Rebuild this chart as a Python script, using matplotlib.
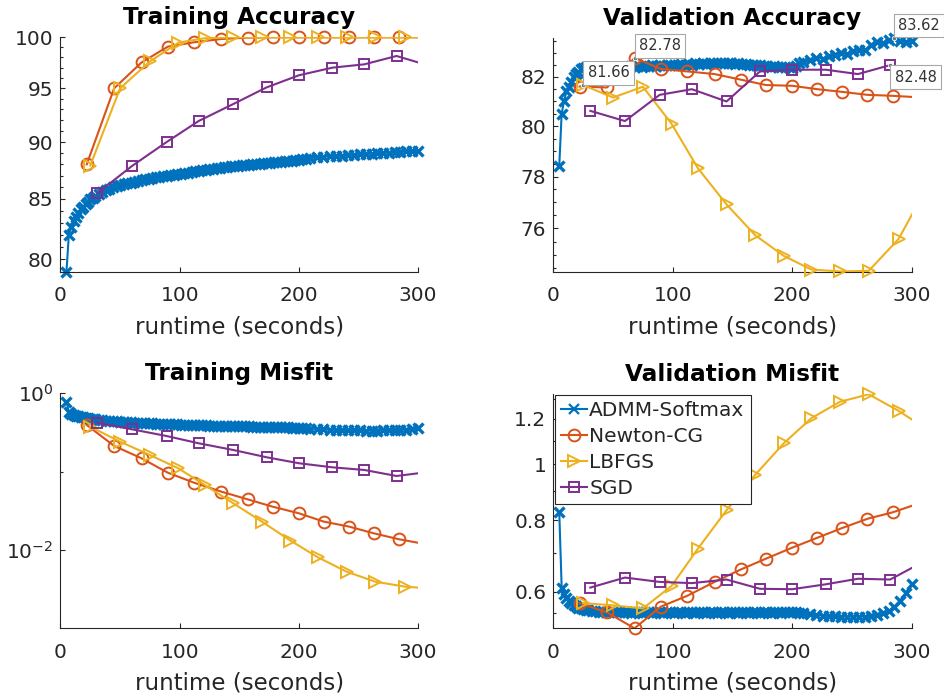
import numpy as np
import matplotlib
matplotlib.use('Agg')
import matplotlib.pyplot as plt
from matplotlib.lines import Line2D
from matplotlib.ticker import FixedLocator, FixedFormatter, NullFormatter, NullLocator

plt.rcParams['font.family'] = ['DejaVu Sans']

# ---------------- data ----------------
series_names = ['ADMM-Softmax', 'Newton-CG', 'LBFGS', 'SGD']

admm_t = [5, 7, 9, 11, 13, 15, 17, 19, 21, 23, 25, 27, 29,
          32, 35, 38, 41, 44, 47, 50, 53, 56, 59,
          62, 65, 68, 71, 74, 77, 80, 83, 86, 89,
          92, 95, 98, 101, 104, 107, 110, 113, 116, 119,
          122, 125, 128, 131, 134, 137, 140, 143, 146, 149,
          152, 155, 158, 161, 164, 167, 170, 173, 176, 179,
          182, 185, 188, 191, 194, 197, 200, 203, 206, 209,
          215, 220, 226, 231, 236, 241, 246, 251, 256, 261,
          266, 271, 276, 281, 285, 290, 295, 300]

admm_train_acc = [79.0, 82.0, 82.6, 83.1, 83.5, 83.8, 84.1, 84.35, 84.55, 84.75, 84.95, 85.1, 85.25,
                  85.45, 85.6, 85.75, 85.88, 86.0, 86.1, 86.16, 86.25, 86.33, 86.4,
                  86.48, 86.55, 86.62, 86.7, 86.75, 86.82, 86.88, 86.93, 86.98, 87.02,
                  87.06, 87.1, 87.14, 87.18, 87.22, 87.28, 87.34, 87.4, 87.45, 87.5,
                  87.54, 87.58, 87.62, 87.66, 87.7, 87.74, 87.78, 87.82, 87.86, 87.89,
                  87.92, 87.95, 87.98, 88.01, 88.04, 88.07, 88.1, 88.13, 88.16, 88.19,
                  88.22, 88.25, 88.28, 88.31, 88.34, 88.37, 88.4, 88.45, 88.5, 88.55,
                  88.62, 88.68, 88.72, 88.75, 88.78, 88.82, 88.86, 88.9, 88.93, 88.96,
                  89.0, 89.03, 89.06, 89.1, 89.15, 89.2, 89.18, 89.2]

admm_val_acc = [78.43, 80.5, 81.0, 81.4, 81.6, 81.8, 82.0, 82.1, 82.2, 82.3, 82.35, 82.4, 82.42,
                82.38, 82.35, 82.4, 82.36, 82.38, 82.42, 82.35, 82.4, 82.38, 82.42,
                82.4, 82.44, 82.4, 82.45, 82.42, 82.46, 82.43, 82.47, 82.44, 82.48,
                82.45, 82.5, 82.47, 82.5, 82.48, 82.52, 82.5, 82.53, 82.5, 82.55,
                82.52, 82.56, 82.54, 82.57, 82.55, 82.58, 82.56, 82.57, 82.55, 82.56,
                82.53, 82.55, 82.52, 82.53, 82.5, 82.5, 82.47, 82.48, 82.45, 82.45,
                82.42, 82.43, 82.4, 82.41, 82.39, 82.4, 82.38, 82.45, 82.55, 82.6,
                82.7, 82.78, 82.75, 82.85, 82.9, 82.98, 82.95, 83.05, 83.12, 83.1,
                83.3, 83.42, 83.38, 83.52, 83.62, 83.5, 83.45, 83.48]

admm_train_mis = [0.78, 0.58, 0.55, 0.535, 0.52, 0.51, 0.5, 0.493, 0.487, 0.48, 0.475, 0.47, 0.465,
                  0.458, 0.452, 0.447, 0.443, 0.44, 0.437, 0.434, 0.431, 0.428, 0.425,
                  0.423, 0.42, 0.418, 0.416, 0.414, 0.412, 0.41, 0.408, 0.406, 0.404,
                  0.403, 0.401, 0.4, 0.399, 0.397, 0.396, 0.394, 0.393, 0.392, 0.39,
                  0.389, 0.388, 0.387, 0.386, 0.385, 0.384, 0.383, 0.382, 0.381, 0.38,
                  0.379, 0.378, 0.377, 0.376, 0.375, 0.374, 0.373, 0.372, 0.371, 0.37,
                  0.369, 0.368, 0.367, 0.366, 0.365, 0.364, 0.363, 0.361, 0.358, 0.355,
                  0.35, 0.346, 0.343, 0.341, 0.339, 0.338, 0.337, 0.336, 0.335, 0.335,
                  0.335, 0.336, 0.337, 0.339, 0.341, 0.345, 0.35, 0.357]

admm_val_mis = [0.825, 0.61, 0.595, 0.585, 0.578, 0.573, 0.569, 0.566, 0.563, 0.561, 0.559, 0.558, 0.557,
                0.556, 0.555, 0.554, 0.554, 0.553, 0.553, 0.553, 0.552, 0.552, 0.552,
                0.552, 0.551, 0.552, 0.552, 0.551, 0.552, 0.552, 0.551, 0.552, 0.552,
                0.551, 0.552, 0.552, 0.551, 0.552, 0.552, 0.551, 0.552, 0.552, 0.551,
                0.552, 0.552, 0.551, 0.552, 0.552, 0.551, 0.552, 0.552, 0.551, 0.552,
                0.552, 0.551, 0.552, 0.552, 0.551, 0.552, 0.552, 0.551, 0.552, 0.552,
                0.551, 0.552, 0.552, 0.551, 0.552, 0.552, 0.552, 0.552, 0.551, 0.55,
                0.548, 0.546, 0.545, 0.544, 0.544, 0.543, 0.543, 0.543, 0.543, 0.543,
                0.544, 0.546, 0.55, 0.556, 0.564, 0.578, 0.597, 0.62]

newton_t = [22, 45, 68, 90, 112, 135, 157, 178, 200, 221, 242, 263, 284, 306]
newton_train_acc = [88.0, 95.0, 97.5, 99.06, 99.5, 99.83, 99.97, 100, 100, 100, 100, 100, 100, 100]
newton_val_acc = [81.6, 81.56, 82.78, 82.32, 82.22, 82.11, 81.88, 81.66, 81.63, 81.49, 81.38, 81.26, 81.22, 81.16]
newton_train_mis = [0.394, 0.213, 0.148, 0.097, 0.0723, 0.0555, 0.0443, 0.0357, 0.0294, 0.023, 0.0199, 0.0163, 0.0137, 0.0119]
newton_val_mis = [0.573, 0.552, 0.518, 0.565, 0.59, 0.624, 0.656, 0.685, 0.716, 0.745, 0.775, 0.804, 0.825, 0.855]

lbfgs_t = [25, 50, 75, 99, 121, 145, 169, 193, 216, 240, 264, 289, 313]
lbfgs_train_acc = [87.9, 95.0, 97.6, 99.47, 99.9, 100, 100, 100, 100, 100, 100, 100, 100]
lbfgs_val_acc = [81.66, 81.15, 81.59, 80.09, 78.33, 76.92, 75.74, 74.96, 74.45, 74.38, 74.40, 75.6, 77.6]
lbfgs_train_mis = [0.375, 0.241, 0.163, 0.110, 0.0675, 0.0394, 0.023, 0.01316, 0.00806, 0.00529, 0.00394, 0.0034, 0.0032]
lbfgs_val_mis = [0.573, 0.568, 0.561, 0.614, 0.713, 0.832, 0.959, 1.089, 1.204, 1.286, 1.325, 1.24, 1.15]

sgd_t = [31, 60, 89, 116, 145, 173, 200, 228, 255, 282, 310]
sgd_train_acc = [85.5, 87.86, 90.0, 91.93, 93.51, 95.09, 96.25, 96.99, 97.32, 98.14, 97.16]
sgd_val_acc = [80.61, 80.2, 81.26, 81.49, 80.99, 82.22, 82.29, 82.29, 82.11, 82.48, 82.0]
sgd_train_mis = [0.422, 0.347, 0.285, 0.23, 0.189, 0.1525, 0.128, 0.1136, 0.105, 0.088, 0.0995]
sgd_val_mis = [0.61, 0.635, 0.624, 0.621, 0.63, 0.607, 0.606, 0.618, 0.632, 0.63, 0.677]

# data tips: (x, y, label, below)
tips_val_acc = [(25, 81.66, '81.66', False), (68, 82.78, '82.78', False),
                (285, 83.62, '83.62', False), (282, 82.48, '82.48', True)]

# ---------------- style ----------------
C_ADMM, C_NEWTON, C_LBFGS, C_SGD = '#0072BD', '#D95319', '#EDB120', '#7E2F8E'
TXT = '#262626'
# (color, marker, size, edge width)
styles = [(C_ADMM, 'x', 7.0, 2.4), (C_NEWTON, 'o', 8.5, 1.4),
          (C_LBFGS, '>', 8.5, 1.4), (C_SGD, 's', 7.0, 1.4)]

fig = plt.figure(figsize=(9.45, 6.98), dpi=100)
W, H = 945.0, 698.0

def axes_px(left, top, right, bottom):
    return fig.add_axes([left / W, 1 - bottom / H, (right - left) / W, (bottom - top) / H])

ax_ta = axes_px(60.5, 37.3, 418.0, 271.7)
ax_va = axes_px(553.3, 37.7, 911.7, 271.7)
ax_tm = axes_px(60.5, 393.3, 418.0, 628.3)
ax_vm = axes_px(553.3, 394.3, 911.7, 628.3)


def draw(ax, data):
    z = 2
    for (t, v), (color, marker, ms, mew) in zip(data, styles):
        t = np.asarray(t, float)
        v = np.asarray(v, float)
        ax.plot(t, v, color=color, lw=1.5, zorder=z)
        m = t <= 300
        ax.plot(t[m], v[m], ls='none', marker=marker, ms=ms, mfc='none', mec=color,
                mew=mew, clip_on=False, zorder=z + 0.5)
        z += 1


def style(ax, title):
    ax.set_yscale('log')
    ax.set_xlim(0, 300)
    for s in ['top', 'right']:
        ax.spines[s].set_visible(False)
    for s in ['left', 'bottom']:
        ax.spines[s].set_color(TXT)
        ax.spines[s].set_linewidth(0.8)
    ax.set_xticks([0, 100, 200, 300])
    ax.set_xticklabels(['0', '100', '200', '300'])
    ax.xaxis.set_minor_locator(NullLocator())
    ax.tick_params(which='both', direction='in', colors=TXT, labelsize=14.5, width=0.8)
    ax.tick_params(which='major', length=3.5)
    ax.tick_params(which='minor', length=2.5)
    ax.tick_params(axis='x', pad=10.5)
    ax.tick_params(axis='y', pad=5)
    ax.set_xlabel('runtime (seconds)', fontsize=16.5, color=TXT, labelpad=7)
    ax.set_title(title, fontsize=16.7, fontweight='bold', pad=9.5, color='black')


def set_y(ax, lim, major, labels, minor):
    ax.set_ylim(*lim)
    ax.yaxis.set_major_locator(FixedLocator(major))
    if labels is not None:
        ax.yaxis.set_major_formatter(FixedFormatter(labels))
    ax.yaxis.set_minor_locator(FixedLocator(minor))
    ax.yaxis.set_minor_formatter(NullFormatter())


# Training Accuracy
style(ax_ta, 'Training Accuracy')
draw(ax_ta, [(admm_t, admm_train_acc), (newton_t, newton_train_acc),
             (lbfgs_t, lbfgs_train_acc), (sgd_t, sgd_train_acc)])
set_y(ax_ta, (79.0, 100), [80, 85, 90, 95, 100], ['80', '85', '90', '95', '100'],
      [v for v in range(79, 100) if v % 5 != 0])

# Validation Accuracy
style(ax_va, 'Validation Accuracy')
draw(ax_va, [(admm_t, admm_val_acc), (newton_t, newton_val_acc),
             (lbfgs_t, lbfgs_val_acc), (sgd_t, sgd_val_acc)])
set_y(ax_va, (74.37, 83.62), [76, 78, 80, 82], ['76', '78', '80', '82'],
      [74.5 + 0.5 * k for k in range(19) if (74.5 + 0.5 * k) % 2 != 0])

# Training Misfit
style(ax_tm, 'Training Misfit')
draw(ax_tm, [(admm_t, admm_train_mis), (newton_t, newton_train_mis),
             (lbfgs_t, lbfgs_train_mis), (sgd_t, sgd_train_mis)])
set_y(ax_tm, (1e-3, 1.0), [1e-2, 1e0], None, [1e-1])

# Validation Misfit
style(ax_vm, 'Validation Misfit')
draw(ax_vm, [(admm_t, admm_val_mis), (newton_t, newton_val_mis),
             (lbfgs_t, lbfgs_val_mis), (sgd_t, sgd_val_mis)])
set_y(ax_vm, (0.518, 1.325), [0.6, 0.8, 1.0, 1.2], ['0.6', '0.8', '1', '1.2'],
      [0.55, 0.7, 0.9, 1.1, 1.3])

# legend
handles = [Line2D([], [], color=c, lw=1.5, marker=m, ms=ms, mfc='none', mec=c,
                  mew=(1.6 if m == 'x' else mew))
           for (c, m, ms, mew) in styles]
leg = ax_vm.legend(handles, series_names, loc='upper left', bbox_to_anchor=(0.005, 0.997),
                   borderaxespad=0, fontsize=14.5, frameon=True, fancybox=False,
                   edgecolor=TXT, framealpha=1, handlelength=1.3, handletextpad=0.1,
                   labelspacing=0.35, borderpad=0.3, numpoints=1)
leg.get_frame().set_linewidth(0.8)
leg.set_zorder(20)
for tx in leg.get_texts():
    tx.set_color(TXT)

# data tips
for (x, y, lab, below) in tips_val_acc:
    ax_va.plot([x], [y], ls='none', marker='o', ms=3.2, mfc='#707070', mec='white', mew=0.6,
               clip_on=False, zorder=30)
    ax_va.annotate(lab, (x, y), xytext=(3.3, -3.3 if below else 3.3), textcoords='offset points',
                   ha='left', va='top' if below else 'bottom', fontsize=10.5, color='#333333',
                   bbox=dict(boxstyle='square,pad=0.3', fc='white', ec='#a8a8a8', lw=0.8),
                   annotation_clip=False, zorder=31)

fig.savefig('out.png', dpi=100)
